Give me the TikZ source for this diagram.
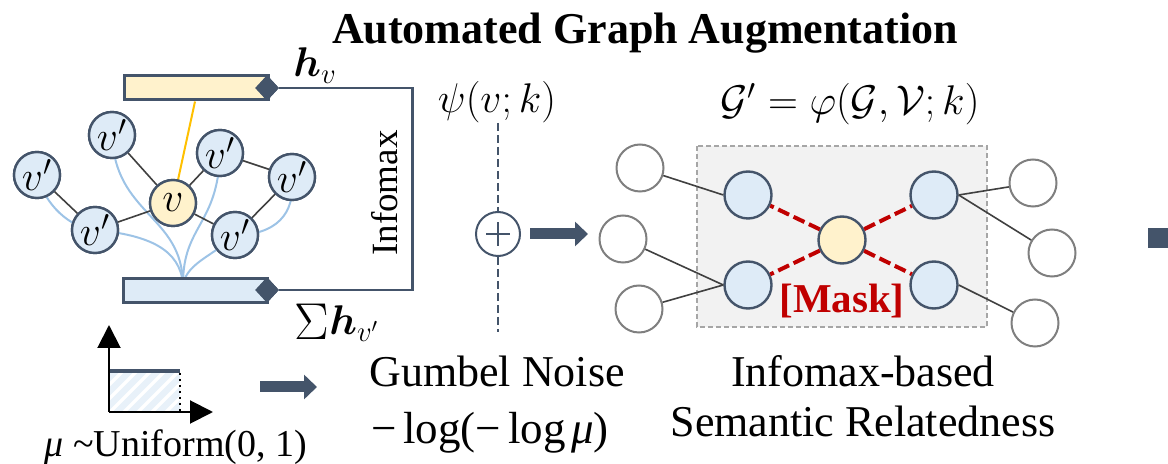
\documentclass[tikz,border=0pt]{standalone}
\usepackage{fontspec}
\setmainfont{Liberation Serif}
\usepackage{bm}
\usetikzlibrary{arrows.meta,shapes.geometric,calc}

\definecolor{navy}{HTML}{44546A}
\definecolor{lblue}{HTML}{DEEBF7}
\definecolor{lyellow}{HTML}{FFF2CC}
\definecolor{curveblue}{HTML}{9DC3E6}
\definecolor{gold}{HTML}{FFC000}
\definecolor{maskred}{HTML}{C00000}
\definecolor{boxgray}{HTML}{F2F2F2}
\definecolor{boxline}{HTML}{A6A6A6}
\definecolor{edgegray}{HTML}{404040}
\definecolor{ringgray}{HTML}{7F7F7F}

\tikzset{
  vnode/.style={circle, draw=navy, line width=1.2pt, fill=lblue, minimum size=23pt,
    inner sep=0pt, font=\fontsize{19.5}{19.5}\selectfont},
  cnode/.style={vnode, fill=lyellow},
  ring/.style={circle, draw=ringgray, line width=1pt, fill=white, minimum size=23.5pt, inner sep=0pt},
  bnode/.style={circle, draw=navy, line width=1.2pt, fill=lblue, minimum size=23.5pt, inner sep=0pt},
  ynode/.style={bnode, fill=lyellow},
  edge/.style={draw=edgegray, line width=0.8pt},
  nbr/.style={draw=curveblue, line width=1pt},
  maskedge/.style={draw=maskred, line width=2pt, dash pattern=on 6pt off 2.5pt},
  bar/.style={rectangle, draw=navy, line width=1.5pt, minimum width=72pt, minimum height=12pt, inner sep=0pt},
  tip/.style={diamond, fill=navy, minimum width=12pt, minimum height=13pt, inner sep=0pt},
  bigarrow/.style={draw=navy, line width=5.5pt, -{Triangle[length=6.5pt,width=12pt]}},
  axis/.style={draw=black, line width=1pt, -{Triangle[length=11.5pt,width=11.5pt]}},
  txt/.style={inner sep=0pt, font=\fontsize{22}{26}\selectfont},
}

\begin{document}
\begin{tikzpicture}[x=0.5pt,y=-0.5pt]
\useasboundingbox (0,0) rectangle (1168,464);

% title
\node[txt, anchor=base] (title) at (645,44) {\bfseries Automated Graph Augmentation};

% ---------- local graph around v ----------
\node[cnode] (v) at (173,203) {$v$};
\node[vnode] (n1) at (37,175) {$v'$};
\node[vnode] (n2) at (112,135) {$v'$};
\node[vnode] (n3) at (220,153) {$v'$};
\node[vnode] (n4) at (292,177) {$v'$};
\node[vnode] (n5) at (95,230) {$v'$};
\node[vnode] (n6) at (235,235) {$v'$};

% embedding bars
\node[bar, fill=lyellow, anchor=west] (hbar) at (123,88) {};
\node[bar, fill=lblue, anchor=west] (sbar) at (122,291) {};
\node[tip] (dtop) at (267,88) {};
\node[tip] (dbot) at (267,290) {};
\coordinate (pool) at (183,284);

% readout curves into the summary bar
\draw[nbr] (n1.center) .. controls (45,205) and (70,228) .. (n5.center);
\draw[nbr] (n5.center) .. controls (150,235) and (180,250) .. (pool);
\draw[nbr] (n2.center) .. controls (115,215) and (182,215) .. (pool);
\draw[nbr] (n3.center) .. controls (218,225) and (183,225) .. (pool);
\draw[nbr] (n4.center) .. controls (296,215) and (275,235) .. (n6.center);
\draw[nbr] (n6.center) .. controls (215,255) and (188,262) .. (pool);
\draw[draw=gold, line width=1pt] (v.center) -- (hbar.south -| 195,0);

% graph edges
\draw[edge] (n1) -- (n5);
\draw[edge] (n2) -- (v);
\draw[edge] (n3) -- (v);
\draw[edge] (n3) -- (n4);
\draw[edge] (n4) -- (n6);
\draw[edge] (n5) -- (v);
\draw[edge] (v) -- (n6);

% redraw nodes on top of the curves
\node[cnode] at (v) {$v$};
\foreach \n in {n1,n2,n3,n4,n5,n6} \node[vnode] at (\n) {$v'$};
\node[bar, fill=lyellow, anchor=west] at (123,88) {};
\node[bar, fill=lblue, anchor=west] at (122,291) {};
\node[tip] at (dtop) {};
\node[tip] at (dbot) {};

% infomax loop
\draw[draw=navy, line width=1.2pt] (dtop.east) -- ++(133,0) |- (dbot.east);
\node[inner sep=0pt, anchor=base west, font=\fontsize{20}{20}\selectfont] (hv) at (293,77) {$\bm{h}_v$};
\node[inner sep=0pt, anchor=base, font=\fontsize{20.5}{20.5}\selectfont] (sumh) at (337,335)
  {\raisebox{-0.1em}{\scalebox{1.25}{$\Sigma$}}$\bm{h}_{v'}$};
\node[inner sep=0pt, rotate=90, font=\fontsize{18.5}{18.5}\selectfont] (infomax) at (385,193) {Infomax};

% ---------- uniform distribution ----------
\coordinate (o) at (109,412);
\fill[lblue!70] (109,372) rectangle (180,412);
\begin{scope}
  \clip (109,372) rectangle (180,412);
  \foreach \i in {0,...,9} \draw[white, line width=1.6pt] (60+\i*14,420) -- ++(55,-55);
\end{scope}
\draw[navy, line width=2pt] (109,371) -- (180,371);
\draw[black, dotted, line width=1pt] (180,373) -- (180,412);
\draw[axis] (o) -- (109,325);
\draw[axis] (o) -- (213,412);
\node[txt, anchor=base, font=\fontsize{19}{19}\selectfont] (unif) at (176,457) {\textit{μ} \textasciitilde Uniform(0, 1)};
\coordinate (ua) at (260,387);
\coordinate (ub) at (317,387);
\draw[bigarrow] (ua) -- (ub);

% ---------- Gumbel noise ----------
\node[inner sep=0pt, anchor=base, font=\fontsize{22}{22}\selectfont] (psi) at (497,113) {$\psi(v;k)$};
\node[circle, draw=navy, line width=1pt, minimum size=22pt, inner sep=0pt,
  path picture={\draw[navy, line width=0.7pt]
    ($(path picture bounding box.center)+(-6pt,0)$) -- ($(path picture bounding box.center)+(6pt,0)$)
    ($(path picture bounding box.center)+(0,-6pt)$) -- ($(path picture bounding box.center)+(0,6pt)$);}]
  (oplus) at (498,234) {};
\coordinate (dtopend) at (498,123);
\coordinate (dbotend) at (498,332);
\draw[navy, line width=0.7pt, dash pattern=on 4pt off 2pt] (dtopend) -- (oplus.north);
\draw[navy, line width=0.7pt, dash pattern=on 4pt off 2pt] (oplus.south) -- (dbotend);
\coordinate (ga) at (530,234);
\coordinate (gb) at (588,234);
\draw[bigarrow] (ga) -- (gb);
\node[txt, anchor=base] (gumbel) at (497,387) {Gumbel Noise};
\node[txt, anchor=base, font=\fontsize{22.5}{26}\selectfont] (neglog) at (490,444)
  {−\hspace{0.15em}log(−\hspace{0.15em}log\hspace{0.12em}\textit{μ})};

% ---------- augmented graph ----------
\node[inner sep=0pt, anchor=base, font=\fontsize{21}{21}\selectfont] (gform) at (850,115)
  {$\mathcal{G}'=\varphi(\mathcal{G},\mathcal{V};k)$};
\draw[fill=boxgray, draw=boxline, line width=0.7pt, dash pattern=on 2.5pt off 1.5pt] (697,146) rectangle (987,327);

\node[ring] (l1) at (640,168) {};
\node[ring] (l2) at (623,239) {};
\node[ring] (l3) at (639,309) {};
\node[ring] (r1) at (1033,183) {};
\node[ring] (r2) at (1052,253) {};
\node[ring] (r3) at (1035,323) {};
\node[bnode] (b1) at (748,195) {};
\node[bnode] (b2) at (748,285) {};
\node[bnode] (b3) at (934,195) {};
\node[bnode] (b4) at (934,285) {};
\node[ynode] (c) at (842,240) {};

\draw[edge] (l1) -- (b1.west);
\draw[edge] (l2) -- (b2.west);
\draw[edge] (l3) -- (b2.west);
\draw[edge] (b3.east) -- (r1);
\draw[edge] (b3.east) -- (r2);
\draw[edge] (b4.east) -- (r3);
\draw[maskedge] (c) -- (b1);
\draw[maskedge] (c) -- (b2);
\draw[maskedge] (c) -- (b3);
\draw[maskedge] (c) -- (b4);
\node[inner sep=0pt, anchor=base, text=maskred, font=\fontsize{20.5}{20.5}\selectfont\bfseries] (mask) at (842,313) {[Mask]};

\node[txt, anchor=base] (sem1) at (863,387) {Infomax-based};
\node[txt, anchor=base] (sem2) at (863,437) {Semantic Relatedness};

% outgoing arrow
\fill[navy] (1148,228) rectangle (1168,248);
\end{tikzpicture}
\end{document}
